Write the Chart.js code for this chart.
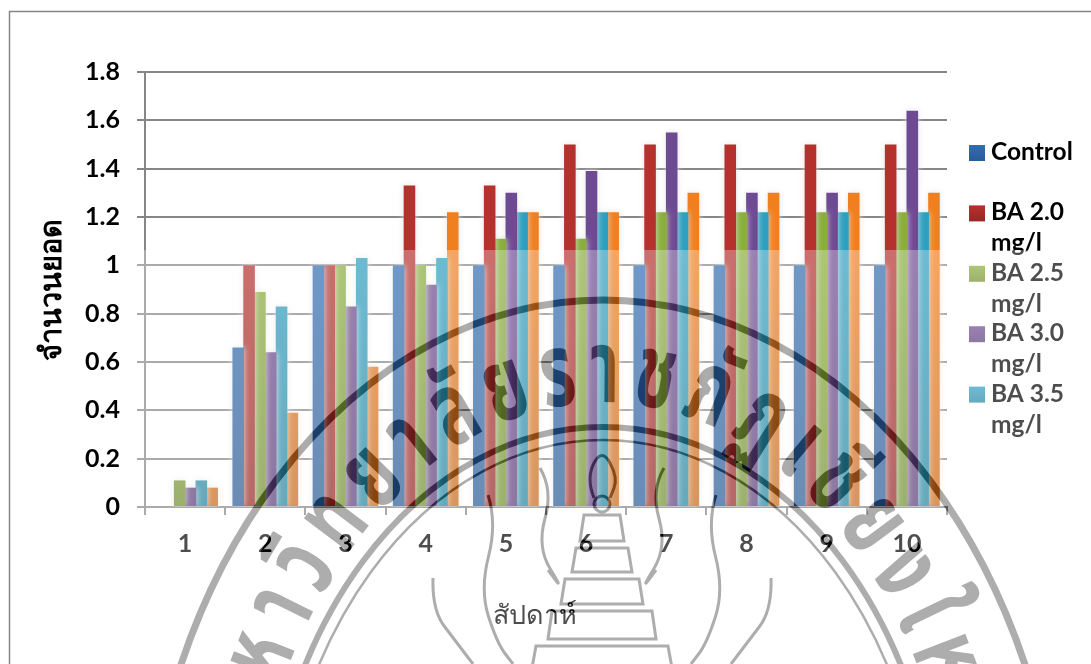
<!DOCTYPE html>
<html>
<head>
<meta charset="utf-8">
<title>Chart</title>
<script src="https://cdn.jsdelivr.net/npm/chart.js@4/dist/chart.umd.min.js"></script>
<style>
    html, body { margin: 0; padding: 0; background: #fff; }
    #wrap { width: 1091px; height: 664px; position: relative; overflow: hidden; }
</style>
</head>
<body>
<div id="wrap"><canvas id="chart"></canvas></div>
<script>
const weeks = ['1', '2', '3', '4', '5', '6', '7', '8', '9', '10'];
const control = [0, 0.66, 1, 1, 1, 1, 1, 1, 1, 1];
const ba20 = [0, 1, 1, 1.33, 1.33, 1.5, 1.5, 1.5, 1.5, 1.5];
const ba25 = [0.11, 0.89, 1, 1, 1.11, 1.11, 1.22, 1.22, 1.22, 1.22];
const ba30 = [0.08, 0.64, 0.83, 0.92, 1.3, 1.39, 1.55, 1.3, 1.3, 1.64];
const ba35 = [0.11, 0.83, 1.03, 1.03, 1.22, 1.22, 1.22, 1.22, 1.22, 1.22];
const lastSeries = [0.08, 0.39, 0.58, 1.22, 1.22, 1.22, 1.3, 1.3, 1.3, 1.3];

const seriesValues = [control, ba20, ba25, ba30, ba35, lastSeries];
// the sixth series has no legend entry in the picture
const seriesNames = ['Control', 'BA 2.0 mg/l', 'BA 2.5 mg/l', 'BA 3.0 mg/l', 'BA 3.5 mg/l', ''];
const seriesColors = ['#336eb2', '#b4312e', '#8aae3a', '#6e4a93', '#2d9fc0', '#f07f1f'];
const seriesDark = ['#2a5b94', '#952826', '#728f30', '#5b3d7a', '#25849f', '#c7691a'];

const AXIS_TITLE_Y = 'จำนวนยอด';
const AXIS_TITLE_X = 'สัปดาห์\u00a0\u00a0\u00a0';
const SEAL_TEXT = 'มหาวิทยาลัยราชภัฏเชียงใหม่';

const FONT = 'Lato, "Noto Sans", sans-serif';
const COLOR_AXIS = '#868686';
const FADE_FROM_Y = 250;
const INK = 'rgb(82,82,82)';

function barFill(i) {
    return (ctx) => {
        const area = ctx.chart.chartArea;
        if (!area) return seriesColors[i];
        const g = ctx.chart.ctx.createLinearGradient(0, area.top, 0, area.bottom);
        g.addColorStop(0.4, seriesColors[i]);
        g.addColorStop(1, seriesDark[i]);
        return g;
    };
}

function drawLegend(ctx) {
    ctx.save();
    ctx.font = 'bold 24.5px ' + FONT;
    ctx.textBaseline = 'alphabetic';
    seriesNames.forEach((name, i) => {
        if (!name) return;
        const top = 145 + i * 60.4;
        const g = ctx.createLinearGradient(0, top, 0, top + 16);
        g.addColorStop(0, seriesColors[i]);
        g.addColorStop(1, seriesDark[i]);
        ctx.fillStyle = g;
        ctx.fillRect(969, top, 16, 16);
        ctx.fillStyle = '#000';
        const parts = name.split(' mg/l');
        ctx.fillText(parts[0], 991, top + 15);
        if (name.includes('mg/l')) ctx.fillText('mg/l', 991, top + 46);
    });
    ctx.restore();
}

function ellipsePoints(cx, cy, a, b, n) {
    const pts = [];
    let len = 0;
    for (let k = 0; k <= n; k++) {
        const t = -Math.PI + (Math.PI * k) / n;
        const p = { x: cx + a * Math.cos(t), y: cy + b * Math.sin(t), t };
        if (k) len += Math.hypot(p.x - pts[k - 1].x, p.y - pts[k - 1].y);
        p.len = len;
        pts.push(p);
    }
    return pts;
}

function drawSealText(ctx) {
    const pts = ellipsePoints(603, 915, 392, 545, 720);
    const total = pts[pts.length - 1].len;
    const clusters = [...new Intl.Segmenter('th', { granularity: 'grapheme' }).segment(SEAL_TEXT)].map(s => s.segment);
    ctx.font = 'bold 64px "Noto Sans Thai", Roboto, "Noto Sans", sans-serif';
    ctx.textAlign = 'center';
    ctx.textBaseline = 'alphabetic';
    const widths = clusters.map(c => ctx.measureText(c).width);
    const sum = widths.reduce((s, w) => s + w, 0);
    const spread = 1110;
    const gap = (spread - sum) / (clusters.length - 1);
    let along = (total - spread) / 2;
    clusters.forEach((c, i) => {
        const at = along + widths[i] / 2;
        const p = pts.find(q => q.len >= at) || pts[pts.length - 1];
        const angle = Math.atan2(545 * Math.cos(p.t), -392 * Math.sin(p.t));
        ctx.save();
        ctx.translate(p.x, p.y);
        ctx.rotate(angle);
        ctx.scale(1.05, 1.6);
        ctx.fillText(c, 0, 20);
        ctx.restore();
        along += widths[i] + gap;
    });
}

function strokeCurve(ctx, pts) {
    ctx.beginPath();
    ctx.moveTo(pts[0][0], pts[0][1]);
    for (let i = 1; i < pts.length - 1; i++) {
        const mx = (pts[i][0] + pts[i + 1][0]) / 2;
        const my = (pts[i][1] + pts[i + 1][1]) / 2;
        ctx.quadraticCurveTo(pts[i][0], pts[i][1], mx, my);
    }
    const end = pts[pts.length - 1];
    ctx.lineTo(end[0], end[1]);
    ctx.stroke();
}

function drawStupa(ctx) {
    const mid = 602;
    const tiers = [[515, 18, 22], [548, 26, 30], [579, 37, 41], [611, 50, 54], [646, 66, 70]];
    ctx.lineWidth = 3;
    tiers.forEach(([y, top, bottom], i) => {
        const next = i < tiers.length - 1 ? tiers[i + 1][0] - 7 : 668;
        ctx.beginPath();
        ctx.moveTo(mid - bottom, next);
        ctx.lineTo(mid - top, y);
        ctx.lineTo(mid + top, y);
        ctx.lineTo(mid + bottom, next);
        ctx.closePath();
        ctx.stroke();
    });
    ctx.beginPath();
    ctx.arc(mid, 504, 8, 0, Math.PI * 2);
    ctx.stroke();
    strokeCurve(ctx, [[mid - 8, 498], [mid - 16, 478], [mid, 448], [mid + 16, 478], [mid + 8, 498]]);

    const curves = [
        [[488, 495], [497, 523], [480, 590], [497, 643], [513, 664]],
        [[540, 468], [553, 490], [537, 547], [563, 590], [548, 570]],
        [[433, 578], [432, 610], [457, 643], [473, 664]],
    ];
    curves.forEach(c => {
        strokeCurve(ctx, c);
        strokeCurve(ctx, c.map(([x, y]) => [mid * 2 - x, y]));
    });
}

function drawSeal(ctx) {
    ctx.save();
    ctx.globalCompositeOperation = 'difference';
    ctx.strokeStyle = INK;
    ctx.fillStyle = INK;
    [[603, 915, 462, 615, 7], [603, 887, 340, 460, 6], [603, 890, 328, 450, 2.5]].forEach(([x, y, a, b, w]) => {
        ctx.lineWidth = w;
        ctx.beginPath();
        ctx.ellipse(x, y, a, b, 0, Math.PI, Math.PI * 2);
        ctx.stroke();
    });
    drawSealText(ctx);
    drawStupa(ctx);
    ctx.restore();
}

const pagePlugin = {
    id: 'page',
    beforeDraw(chart) {
        const ctx = chart.ctx;
        ctx.save();
        ctx.fillStyle = '#fff';
        ctx.fillRect(0, 0, chart.width, chart.height);
        ctx.strokeStyle = COLOR_AXIS;
        ctx.lineWidth = 1.5;
        ctx.beginPath();
        ctx.moveTo(9.5, 664);
        ctx.lineTo(9.5, 11.5);
        ctx.lineTo(1091, 11.5);
        ctx.stroke();
        ctx.restore();
    },
    beforeDatasetsDraw(chart) {
        chart.ctx.save();
        chart.ctx.shadowColor = 'rgba(225,225,225,0.9)';
        chart.ctx.shadowBlur = 6;
    },
    afterDatasetsDraw(chart) {
        chart.ctx.restore();
    },
    afterDraw(chart) {
        const ctx = chart.ctx;
        drawLegend(ctx);
        // the scanned page is washed out below this line, except the y labels
        ctx.save();
        ctx.fillStyle = 'rgba(255,255,255,0.3)';
        ctx.fillRect(128, FADE_FROM_Y, 1091 - 128, 664 - FADE_FROM_Y);
        ctx.restore();
        drawSeal(ctx);
    }
};

new Chart(document.getElementById('chart'), {
    type: 'bar',
    data: {
        labels: weeks,
        datasets: seriesValues.map((values, i) => ({
            label: seriesNames[i],
            data: values,
            backgroundColor: barFill(i),
            categoryPercentage: 0.81,
            barPercentage: 1.07,
        })),
    },
    plugins: [pagePlugin],
    options: {
        responsive: true,
        maintainAspectRatio: false,
        animation: false,
        layout: { padding: { left: 0, right: 144, top: 72, bottom: 0 } },
        plugins: {
            legend: { display: false },
            tooltip: { enabled: false },
        },
        scales: {
            x: {
                grid: { drawOnChartArea: false, color: COLOR_AXIS, lineWidth: 2, tickLength: 8 },
                border: { color: COLOR_AXIS, width: 2 },
                ticks: { color: '#000', padding: 14, font: { family: FONT, weight: 'bold', size: 25 } },
                title: { display: true, text: AXIS_TITLE_X, color: '#000', padding: { top: 0, bottom: 31 }, font: { size: 27 } },
                afterFit(scale) { scale.height = 157; },
            },
            y: {
                min: 0,
                max: 1.8,
                grid: { color: COLOR_AXIS, lineWidth: 2, tickLength: 8 },
                border: { color: COLOR_AXIS, width: 2 },
                ticks: {
                    stepSize: 0.2,
                    color: '#000',
                    padding: 17,
                    font: { family: FONT, weight: 'bold', size: 25 },
                    callback: v => String(Math.round(v * 10) / 10),
                },
                title: { display: true, text: AXIS_TITLE_Y, color: '#000', padding: { top: 36, bottom: 0 }, font: { weight: 'bold', size: 29 } },
                afterFit(scale) { scale.width = 145; },
            },
        },
    },
});
</script>
</body>
</html>
